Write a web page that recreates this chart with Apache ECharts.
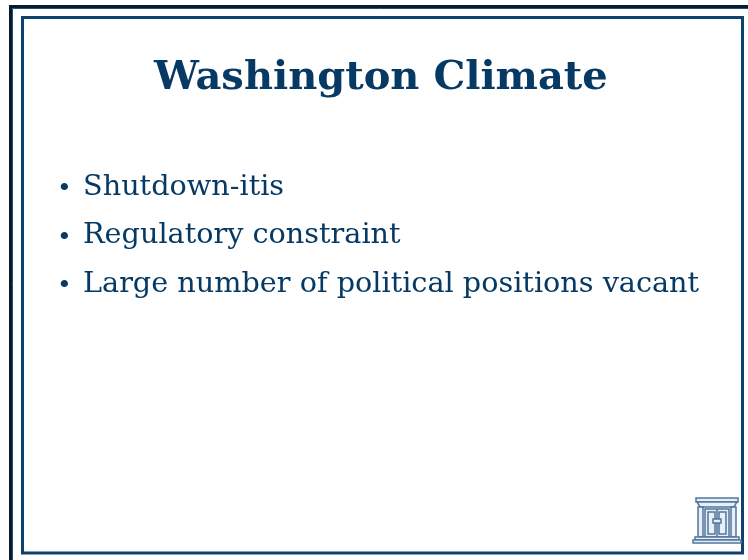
<!DOCTYPE html>
<html>
<head>
<meta charset="utf-8">
<script src="https://cdn.jsdelivr.net/npm/echarts@6/dist/echarts.min.js"></script>
<style>
  html, body { margin: 0; padding: 0; background: #fff; }
  #chart { width: 748px; height: 560px; }
</style>
</head>
<body>
<div id="chart"></div>
<script>
// slide content
const slideTitle = 'Washington Climate'
const bullets = [
  'Shutdown-itis',
  'Regulatory constraint',
  'Large number of political positions vacant'
]

const navy = '#063a64'
const iconBlue = '#50769f'

const chart = echarts.init(document.getElementById('chart'))

// small column / door icon, bottom right
const iconParts = [
  { type: 'rect', shape: { x: 696, y: 498, width: 42, height: 4 } },
  { type: 'polygon', shape: { points: [[697, 502], [737, 502], [734, 507], [700, 507]] } },
  { type: 'rect', shape: { x: 698, y: 507, width: 5, height: 30 } },
  { type: 'rect', shape: { x: 731, y: 507, width: 5, height: 30 } },
  { type: 'rect', shape: { x: 705, y: 509, width: 24, height: 28 } },
  { type: 'line', shape: { x1: 717, y1: 509, x2: 717, y2: 537 } },
  { type: 'rect', shape: { x: 708, y: 512, width: 7, height: 22 } },
  { type: 'rect', shape: { x: 719, y: 512, width: 7, height: 22 } },
  { type: 'rect', shape: { x: 713, y: 519, width: 8, height: 4 } },
  { type: 'rect', shape: { x: 695, y: 537, width: 44, height: 3 } },
  { type: 'rect', shape: { x: 693, y: 540, width: 48, height: 3 } }
].map(p => Object.assign(p, {
  style: { fill: p.type === 'line' ? null : '#e9eff6', stroke: iconBlue, lineWidth: 1.5 }
}))

const option = {
  backgroundColor: '#fff',
  title: {
    text: slideTitle,
    left: 149,
    top: 54,
    textStyle: {
      fontFamily: 'DejaVu Serif',
      fontWeight: 'bold',
      fontSize: 40,
      color: navy
    }
  },
  graphic: [
    // outer dark frame
    { type: 'rect', shape: { x: 10.5, y: 6.5, width: 760, height: 600 },
      style: { fill: null, stroke: '#0a1a2a', lineWidth: 3 } },
    { type: 'rect', shape: { x: 12.5, y: 8.5, width: 760, height: 600 },
      style: { fill: null, stroke: '#1d4e78', lineWidth: 1 } },
    // inner blue frame
    { type: 'rect', shape: { x: 22.5, y: 17.5, width: 720, height: 535.5 },
      style: { fill: null, stroke: '#0d426e', lineWidth: 3 } },
    ...bullets.flatMap((b, i) => [
      { type: 'text', left: 57, top: 177 + i * 48.5,
        style: { text: '•', font: '25px "DejaVu Serif"', fill: navy } },
      { type: 'text', left: 83, top: 173 + i * 48.5,
        style: { text: b, font: '28.7px "DejaVu Serif"', fill: navy } }
    ]),
    ...iconParts
  ]
}

chart.setOption(option)
</script>
</body>
</html>
